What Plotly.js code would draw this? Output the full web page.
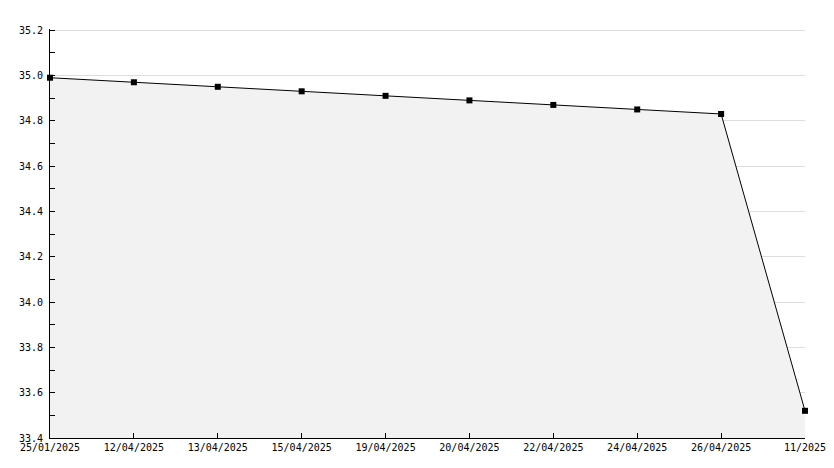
<!DOCTYPE html>
<html>
<head>
<meta charset="utf-8">
<script src="https://cdn.plot.ly/plotly-3.0.1.min.js"></script>
<style>html,body{margin:0;padding:0;background:#fff;}#chart{width:834px;height:468px;}</style>
</head>
<body>
<div id="chart"></div>
<script>
const categories = ["25/01/2025","12/04/2025","13/04/2025","15/04/2025","19/04/2025","20/04/2025","22/04/2025","24/04/2025","26/04/2025","11/2025"];
const values = [34.99, 34.97, 34.95, 34.93, 34.91, 34.89, 34.87, 34.85, 34.83, 33.52];
const yTicks = [33.4, 33.6, 33.8, 34.0, 34.2, 34.4, 34.6, 34.8, 35.0, 35.2];
const yTickText = ["33.4","33.6","33.8","34.0","34.2","34.4","34.6","34.8","35.0","35.2"];

const trace = {
  x: categories,
  y: values,
  type: 'scatter',
  mode: 'lines+markers',
  fill: 'tozeroy',
  fillcolor: '#f2f2f2',
  line: {color: '#000', width: 1},
  marker: {symbol: 'square', size: 6, color: '#000'},
  cliponaxis: false,
  hoverinfo: 'skip'
};

const font = {family: '"DejaVu Sans Mono", monospace', size: 10, color: '#000'};

const layout = {
  width: 834, height: 468,
  margin: {l: 50, r: 29, t: 29, b: 30},
  paper_bgcolor: '#fff',
  plot_bgcolor: '#fff',
  showlegend: false,
  font: font,
  xaxis: {
    type: 'category',
    range: [0, categories.length - 1],
    showgrid: false,
    zeroline: false,
    showline: true,
    linecolor: '#000',
    linewidth: 1,
    ticks: 'inside',
    ticklen: 5,
    tickcolor: '#000',
    tickfont: font,
    fixedrange: true
  },
  yaxis: {
    range: [33.4, 35.205],
    tickmode: 'array',
    tickvals: yTicks,
    ticktext: yTickText,
    showgrid: true,
    gridcolor: '#dddddd',
    gridwidth: 1,
    zeroline: false,
    showline: true,
    linecolor: '#000',
    linewidth: 1,
    ticks: 'inside',
    ticklen: 5,
    tickcolor: '#000',
    ticklabelstandoff: 4,
    tickfont: font,
    minor: {dtick: 0.1, tick0: 33.4, ticks: 'inside', ticklen: 5, tickcolor: '#000', showgrid: false},
    fixedrange: true
  }
};

Plotly.newPlot('chart', [trace], layout, {displayModeBar: false, staticPlot: true});
</script>
</body>
</html>
